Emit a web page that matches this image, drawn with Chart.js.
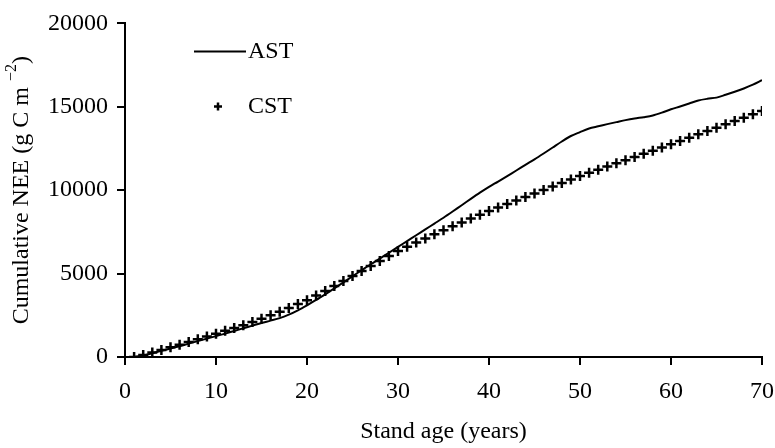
<!DOCTYPE html>
<html>
<head>
<meta charset="utf-8">
<script src="https://cdn.jsdelivr.net/npm/chart.js@4.4.1/dist/chart.umd.min.js"></script>
<style>
  html, body { margin: 0; padding: 0; background: #fff; }
  #wrap { width: 775px; height: 448px; position: relative; }
</style>
</head>
<body>
<div id="wrap"><canvas id="neeChart"></canvas></div>
<script>
// stand age (years)
const years = [1,2,3,4,5,6,7,8,9,10,11,12,13,14,15,16,17,18,19,20,
  21,22,23,24,25,26,27,28,29,30,31,32,33,34,35,36,37,38,39,40,
  41,42,43,44,45,46,47,48,49,50,51,52,53,54,55,56,57,58,59,60,
  61,62,63,64,65,66,67,68,69,70];

// cumulative NEE, g C m-2
const astValues = [0,90,230,370,510,650,800,950,1100,1250,1400,1560,1720,1880,2040,2180,2330,2540,2800,3100,
  3420,3760,4110,4470,4840,5200,5560,5900,6250,6600,6950,7300,7650,8000,8350,8720,9100,9480,9850,10200,
  10520,10850,11180,11520,11850,12200,12560,12920,13250,13480,13700,13830,13960,14080,14200,14300,14380,14480,14650,14850,
  15020,15200,15380,15480,15550,15720,15900,16100,16330,16600];

const cstValues = [0,120,270,420,580,740,900,1070,1230,1400,1570,1740,1910,2100,2300,2510,2720,2940,3170,3400,
  3680,3960,4250,4550,4850,5150,5450,5750,6050,6350,6610,6860,7110,7360,7600,7840,8070,8300,8530,8750,
  8960,9170,9380,9590,9800,10010,10220,10430,10640,10850,11040,11230,11420,11610,11800,11990,12180,12370,12560,12750,
  12950,13150,13350,13550,13750,13950,14150,14350,14550,14750];

const xTicks = [0, 10, 20, 30, 40, 50, 60, 70];
const yTicks = [0, 5000, 10000, 15000, 20000];

const serif = "'Liberation Serif', 'Times New Roman', serif";

const overlay = {
  id: 'overlay',
  afterDraw(chart) {
    const ctx = chart.ctx;
    const area = chart.chartArea;
    ctx.save();
    ctx.fillStyle = '#000';
    ctx.strokeStyle = '#000';
    ctx.font = '24px ' + serif;
    ctx.textBaseline = 'middle';

    // legend
    const lx = area.left + 69, ly1 = area.top + 28, ly2 = area.top + 83;
    ctx.lineWidth = 2;
    ctx.beginPath();
    ctx.moveTo(lx, ly1);
    ctx.lineTo(lx + 52, ly1);
    ctx.stroke();
    ctx.fillText('AST', lx + 54, ly1);
    ctx.lineWidth = 2.5;
    ctx.beginPath();
    ctx.moveTo(lx + 20, ly2); ctx.lineTo(lx + 28, ly2);
    ctx.moveTo(lx + 24, ly2 - 4); ctx.lineTo(lx + 24, ly2 + 4);
    ctx.stroke();
    ctx.fillText('CST', lx + 54, ly2);

    // y title with superscript
    ctx.translate(22, (area.top + area.bottom) / 2);
    ctx.rotate(-Math.PI / 2);
    const main = 'Cumulative NEE (g C m ';
    ctx.font = '24px ' + serif;
    const w1 = ctx.measureText(main).width;
    ctx.font = '16px ' + serif;
    const w2 = ctx.measureText('\u22122').width;
    ctx.font = '24px ' + serif;
    const w3 = ctx.measureText(')').width;
    let x = -(w1 + w2 + w3) / 2;
    ctx.textAlign = 'left';
    ctx.fillText(main, x, 0);
    x += w1;
    ctx.font = '16px ' + serif;
    ctx.fillText('\u22122', x, -10);
    x += w2;
    ctx.font = '24px ' + serif;
    ctx.fillText(')', x, 0);
    ctx.restore();
  }
};

new Chart(document.getElementById('neeChart'), {
  type: 'scatter',
  data: {
    datasets: [{
      label: 'AST',
      data: years.map((y, i) => ({ x: y, y: astValues[i] })),
      showLine: true,
      borderColor: '#000',
      borderWidth: 2,
      pointRadius: 0,
      tension: 0.3,
      fill: false
    }, {
      label: 'CST',
      data: years.map((y, i) => ({ x: y, y: cstValues[i] })),
      showLine: false,
      pointStyle: 'cross',
      pointRadius: 5,
      borderColor: '#000',
      backgroundColor: '#000',
      borderWidth: 2.5
    }]
  },
  options: {
    responsive: true,
    maintainAspectRatio: false,
    animation: false,
    layout: { padding: { top: 22, right: 0, left: 0, bottom: 0 } },
    scales: {
      x: {
        type: 'linear',
        min: 0,
        max: 70,
        afterBuildTicks: s => { s.ticks = xTicks.map(v => ({ value: v })); },
        afterFit: s => { s.height = 91; s.paddingRight = 13; s.paddingLeft = 0; },
        ticks: { color: '#000', padding: 12, callback: v => String(v), font: { size: 24, family: serif, lineHeight: 1.2 } },
        grid: { drawOnChartArea: false, color: '#000', lineWidth: 2, tickLength: 8 },
        border: { color: '#000', width: 2 },
        title: { display: true, text: 'Stand age (years)', color: '#000', padding: { top: 0, bottom: 4 }, font: { size: 24, family: serif, lineHeight: 1 } }
      },
      y: {
        min: 0,
        max: 20000,
        afterBuildTicks: s => { s.ticks = yTicks.map(v => ({ value: v })); },
        afterFit: s => { s.width = 125; },
        ticks: { color: '#000', padding: 9, callback: v => String(v), font: { size: 24, family: serif } },
        grid: { drawOnChartArea: false, color: '#000', lineWidth: 2, tickLength: 8 },
        border: { color: '#000', width: 2 }
      }
    },
    plugins: {
      legend: { display: false },
      tooltip: { enabled: false }
    }
  },
  plugins: [overlay]
});
</script>
</body>
</html>
